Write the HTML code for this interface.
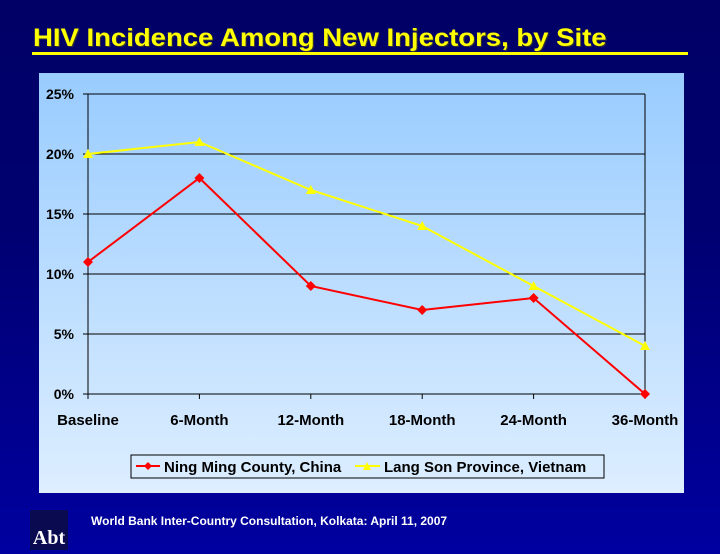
<!DOCTYPE html>
<html><head><meta charset="utf-8"><style>
html,body{margin:0;width:720px;height:554px;overflow:hidden}
body{background:linear-gradient(#000066,#000070 40%,#0000a0);font-family:"Liberation Sans",sans-serif;position:relative}
#title{position:absolute;left:33px;top:24px;color:#ffff00;font-weight:bold;font-size:25px;white-space:nowrap;transform-origin:left top;transform:scaleX(1.1);text-shadow:1px 1px 0 #333}
#uline{position:absolute;left:32px;top:52px;width:656px;height:3px;background:#ffff00}
#foot{position:absolute;left:91px;top:514px;color:#fff;font-size:12px;font-weight:bold;white-space:nowrap}
#logo{position:absolute;left:30px;top:510px;width:38px;height:40px;background:#0a0a50;color:#fff;font-family:"Liberation Serif",serif;font-weight:bold;font-size:20px;text-align:center;line-height:56px}
svg{position:absolute;left:0;top:0}
</style></head><body>
<div id="title">HIV Incidence Among New Injectors, by Site</div>
<div id="uline"></div>
<svg id="chart" width="720" height="554">
<defs><linearGradient id="pg" x1="0" y1="0" x2="0" y2="1"><stop offset="0" stop-color="#99ccff"/><stop offset="1" stop-color="#ddeeff"/></linearGradient></defs>
<rect x="39" y="73" width="645" height="420" fill="url(#pg)"/>
<g id="grid"></g><g id="series"></g>
<g>
<rect x="131" y="455" width="473" height="23" fill="none" stroke="#000" stroke-width="1"/>
<line x1="136" y1="466" x2="160" y2="466" stroke="#ff0000" stroke-width="2"/>
<polygon points="148,462 152,466 148,470 144,466" fill="#ff0000"/>
<text x="164" y="472" font-size="15" font-weight="bold">Ning Ming County, China</text>
<line x1="355" y1="466" x2="380" y2="466" stroke="#ffff00" stroke-width="2"/>
<polygon points="367,462 371,470 363,470" fill="#ffff00"/>
<text x="384" y="472" font-size="15" font-weight="bold">Lang Son Province, Vietnam</text>
</g>
</svg>
<div id="logo">Abt</div>
<div id="foot">World Bank Inter-Country Consultation, Kolkata: April 11, 2007</div>
<script>
const categories=["Baseline","6-Month","12-Month","18-Month","24-Month","36-Month"];
const china=[11,18,9,7,8,0];
const vietnam=[20,21,17,14,9,4];
const yTicks=[0,5,10,15,20,25];
const tickLabels=["0%","5%","10%","15%","20%","25%"];
const NS="http://www.w3.org/2000/svg";
const X0=88,X1=645,Y0=394,Y1=94;
const xs=i=>X0+i*(X1-X0)/(categories.length-1);
const ys=v=>Y0-(v/25)*(Y0-Y1);
function mk(t,a,p){const e=document.createElementNS(NS,t);for(const k in a)e.setAttribute(k,a[k]);p.appendChild(e);return e;}
const g=document.getElementById('grid');
yTicks.forEach((v,i)=>{
 const l=mk('line',{x1:X0,x2:X1,y1:ys(v),y2:ys(v),stroke:'#000','stroke-width':1},g);
 
 
 mk('line',{x1:X0-5,x2:X0,y1:ys(v),y2:ys(v),stroke:'#000'},g);
 const t=mk('text',{x:74,y:ys(v)+5,'text-anchor':'end','font-size':14,'font-weight':'bold'},g);
 t.textContent=tickLabels[i];
 
 
});
mk('line',{x1:X0,x2:X0,y1:Y1,y2:Y0,stroke:'#000'},g);
mk('line',{x1:X1,x2:X1,y1:Y1,y2:Y0,stroke:'#000'},g);
categories.forEach((c,i)=>{
 mk('line',{x1:xs(i),x2:xs(i),y1:Y0,y2:Y0+5,stroke:'#000'},g);
 const t=mk('text',{x:xs(i),y:425,'text-anchor':'middle','font-size':15,'font-weight':'bold'},g);
 t.textContent=c;
 
 
});
const s=document.getElementById('series');
function draw(data,color,tri,name){
 const pl=mk('polyline',{points:data.map((v,i)=>xs(i)+','+ys(v)).join(' '),fill:'none',stroke:color,'stroke-width':2},s);
 
 
 data.forEach((v,i)=>{
  const x=xs(i),y=ys(v);
  const pts=tri?`${x},${y-5} ${x+5},${y+4} ${x-5},${y+4}`:`${x},${y-5} ${x+5},${y} ${x},${y+5} ${x-5},${y}`;
  const m=mk('polygon',{points:pts,fill:color},s);
  
  
 });
}
draw(vietnam,'#ffff00',true,'vietnam');
draw(china,'#ff0000',false,'china');
</script>
</body></html>
